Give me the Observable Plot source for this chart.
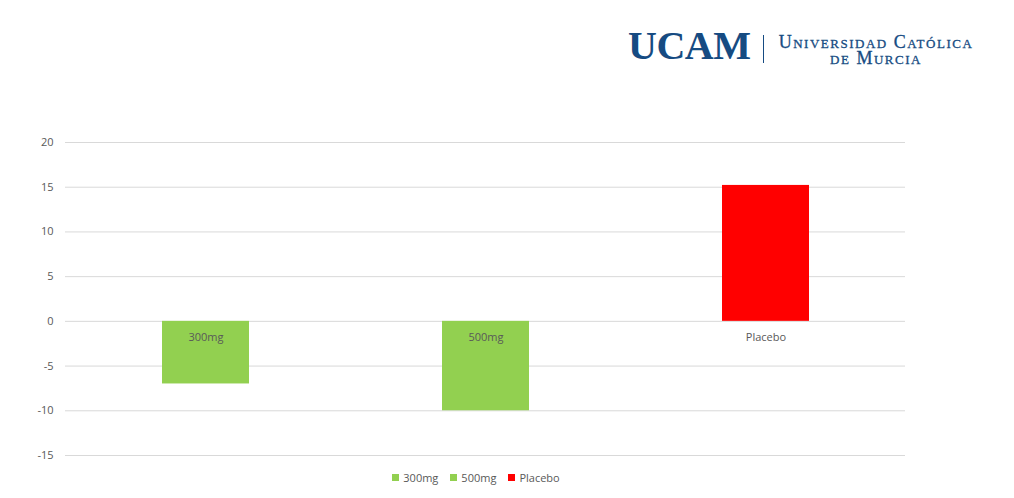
<!DOCTYPE html>
<html>
<head>
<meta charset="utf-8">
<script src="https://cdn.jsdelivr.net/npm/d3@7"></script>
<script src="https://cdn.jsdelivr.net/npm/@observablehq/plot@0.6"></script>
<style>
  html, body { margin: 0; padding: 0; background: #fff; }
  #wrap { position: relative; width: 1014px; height: 498px; overflow: hidden; font-family: "Open Sans", "Liberation Sans", sans-serif; }
  #chart { position: absolute; left: 0; top: 0; }
  #logo { position: absolute; left: 628px; top: 22px; color: #164b82; font-family: "Liberation Serif", "DejaVu Serif", serif; }
  #logo .ucam { position: absolute; left: 0; top: 0; font-size: 40px; font-weight: bold; letter-spacing: -0.5px; line-height: 48px; }
  #logo .bar { position: absolute; left: 135px; top: 13px; width: 1px; height: 28px; background: #164b82; }
  #logo .name { position: absolute; left: 148px; width: 200px; height: 14px; text-align: center; font-size: 18px; font-variant: small-caps; line-height: 14px; letter-spacing: 1.5px; white-space: nowrap; -webkit-text-stroke: 0.3px #164b82; }
  #logo .l1 { top: 13px; }
  #logo .l2 { top: 29px; }
  #legend { position: absolute; left: 56px; top: 470px; width: 840px; display: flex; justify-content: center; gap: 12px; font-size: 11px; color: #595959; }
  #legend .item { display: flex; align-items: center; }
  #legend .sw { width: 7px; height: 7px; margin-right: 4px; }
</style>
</head>
<body>
<div id="wrap">
  <div id="chart"></div>
  <div id="logo">
    <div class="ucam">UCAM</div>
    <div class="bar"></div>
    <div class="name l1">Universidad Católica</div>
    <div class="name l2">de Murcia</div>
  </div>
  <div id="legend"></div>
</div>
<script>
const categories = ["300mg", "500mg", "Placebo"];
const values = [-7, -10, 15.2];
const colors = ["#92d050", "#92d050", "#ff0000"];
const yTicks = [-15, -10, -5, 0, 5, 10, 15, 20];

const data = categories.map((c, i) => ({category: c, value: values[i]}));

const chart = Plot.plot({
  width: 1014,
  height: 465,
  marginLeft: 65,
  marginRight: 109,
  marginTop: 142,
  marginBottom: 10,
  style: {fontFamily: '"Open Sans", "Liberation Sans", sans-serif', fontSize: "11px", color: "#595959", background: "#fff"},
  x: {domain: categories, paddingInner: 0.69, paddingOuter: 0.345, axis: null},
  y: {domain: [-15, 20], axis: null},
  color: {domain: categories, range: colors},
  marks: [
    Plot.ruleY(yTicks, {stroke: "#d9d9d9", strokeWidth: 1}),
    Plot.barY(data, {x: "category", y: "value", fill: "category"}),
    Plot.axisY(yTicks, {tickSize: 0, tickPadding: 12, fill: "#595959", fontSize: 11, label: null, tickFormat: d => String(d)}),
    Plot.text(data, {x: "category", y: () => 0, text: "category", dy: 16, fill: "#595959", fontSize: 11})
  ]
});
document.getElementById("chart").appendChild(chart);

const legend = document.getElementById("legend");
categories.forEach((c, i) => {
  const item = document.createElement("div");
  item.className = "item";
  const sw = document.createElement("span");
  sw.className = "sw";
  sw.style.background = colors[i];
  const t = document.createElement("span");
  t.textContent = c;
  item.appendChild(sw);
  item.appendChild(t);
  legend.appendChild(item);
});
</script>
</body>
</html>
